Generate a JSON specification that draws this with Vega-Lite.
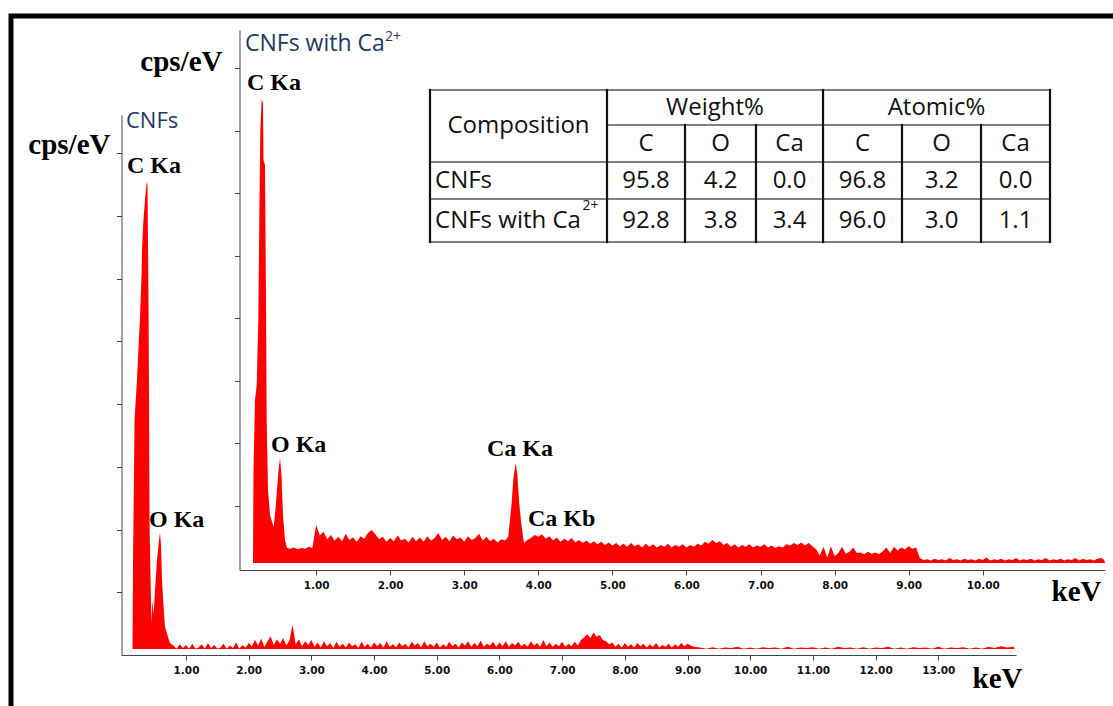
{
 "$schema": "https://vega.github.io/schema/vega-lite/v6.json",
 "width": 1102,
 "height": 690,
 "autosize": {"type": "none"},
 "padding": {"left": 11, "top": 16, "right": 0, "bottom": 0},
 "background": "white",
 "view": {"stroke": "#000", "strokeWidth": 5, "strokeDash": [1102, 1792, 690], "fill": "white"},
 "config": {
  "axis": {"grid": false, "domainColor": "#444", "domainWidth": 1, "tickColor": "#444", "tickSize": 5, "labelFont": "DejaVu Sans", "labelFontWeight": "bold", "labelFontSize": 10.5, "labelColor": "#111", "labelPadding": 5, "labelFlush": false, "labelOverlap": false, "titleFont": "Liberation Serif", "titleFontSize": 29, "titleFontWeight": "bold", "titleColor": "#000"},
  "axisX": {"labelDx": 4.5}
 },
 "datasets": {
  "back": [
   {"e":0.147,"c":0.096},{"e":0.155,"c":1.52},{"e":0.179,"c":3.75},{"e":0.218,"c":4.39},{"e":0.246,"c":4.98},{"e":0.266,"c":5.37},{"e":0.293,"c":6.11},{"e":0.298,"c":6.46},{"e":0.319,"c":6.91},{"e":0.346,"c":7.26},{"e":0.373,"c":7.54},{"e":0.386,"c":7.50},{"e":0.402,"c":5.66},{"e":0.410,"c":4.07},{"e":0.418,"c":2.15},{"e":0.434,"c":1.20},{"e":0.450,"c":0.51},{"e":0.466,"c":0.88},{"e":0.482,"c":0.64},{"e":0.506,"c":1.04},{"e":0.537,"c":1.52},{"e":0.569,"c":1.83},{"e":0.585,"c":1.95},{"e":0.601,"c":1.75},{"e":0.617,"c":1.20},{"e":0.638,"c":0.83},{"e":0.665,"c":0.45},{"e":0.718,"c":0.27},{"e":0.745,"c":0.19},
   {"e":0.80,"c":0.15},{"e":0.85,"c":0.10},{"e":0.90,"c":0.17},{"e":0.95,"c":0.11},{"e":1.00,"c":0.16},{"e":1.05,"c":0.10},{"e":1.10,"c":0.18},{"e":1.15,"c":0.10},{"e":1.20,"c":0.12},{"e":1.25,"c":0.17},{"e":1.30,"c":0.10},{"e":1.35,"c":0.19},{"e":1.40,"c":0.11},{"e":1.45,"c":0.16},{"e":1.50,"c":0.10},{"e":1.55,"c":0.12},{"e":1.60,"c":0.18},{"e":1.65,"c":0.10},{"e":1.70,"c":0.15},{"e":1.75,"c":0.11},{"e":1.80,"c":0.20},{"e":1.85,"c":0.10},{"e":1.90,"c":0.16},{"e":1.95,"c":0.12},{"e":2.00,"c":0.19},
   {"e":2.05,"c":0.14},{"e":2.10,"c":0.24},{"e":2.15,"c":0.15},{"e":2.20,"c":0.26},{"e":2.25,"c":0.13},{"e":2.30,"c":0.22},{"e":2.35,"c":0.30},{"e":2.40,"c":0.16},{"e":2.45,"c":0.25},{"e":2.50,"c":0.18},{"e":2.55,"c":0.27},{"e":2.60,"c":0.15},{"e":2.65,"c":0.23},{"e":2.70,"c":0.48},{"e":2.75,"c":0.17},{"e":2.80,"c":0.25},{"e":2.85,"c":0.14},{"e":2.90,"c":0.22},{"e":2.95,"c":0.16},{"e":3.00,"c":0.24},
   {"e":3.05,"c":0.13},{"e":3.10,"c":0.20},{"e":3.15,"c":0.12},{"e":3.20,"c":0.22},{"e":3.25,"c":0.14},{"e":3.30,"c":0.19},{"e":3.35,"c":0.11},{"e":3.40,"c":0.21},{"e":3.45,"c":0.13},{"e":3.50,"c":0.18},{"e":3.55,"c":0.12},{"e":3.60,"c":0.20},{"e":3.65,"c":0.14},{"e":3.70,"c":0.17},{"e":3.75,"c":0.11},{"e":3.80,"c":0.21},{"e":3.85,"c":0.13},{"e":3.90,"c":0.18},{"e":3.95,"c":0.12},{"e":4.00,"c":0.20},
   {"e":4.05,"c":0.14},{"e":4.10,"c":0.19},{"e":4.15,"c":0.12},{"e":4.20,"c":0.22},{"e":4.25,"c":0.13},{"e":4.30,"c":0.17},{"e":4.35,"c":0.12},{"e":4.40,"c":0.20},{"e":4.45,"c":0.14},{"e":4.50,"c":0.18},{"e":4.55,"c":0.12},{"e":4.60,"c":0.21},{"e":4.65,"c":0.15},{"e":4.70,"c":0.19},{"e":4.75,"c":0.12},{"e":4.80,"c":0.22},{"e":4.85,"c":0.14},{"e":4.90,"c":0.18},{"e":4.95,"c":0.13},{"e":5.00,"c":0.20},
   {"e":5.05,"c":0.12},{"e":5.10,"c":0.17},{"e":5.15,"c":0.13},{"e":5.20,"c":0.21},{"e":5.25,"c":0.14},{"e":5.30,"c":0.18},{"e":5.35,"c":0.12},{"e":5.40,"c":0.20},{"e":5.45,"c":0.15},{"e":5.50,"c":0.22},{"e":5.55,"c":0.13},{"e":5.60,"c":0.19},{"e":5.65,"c":0.14},{"e":5.70,"c":0.23},{"e":5.75,"c":0.13},{"e":5.80,"c":0.18},{"e":5.85,"c":0.15},{"e":5.90,"c":0.21},{"e":5.95,"c":0.13},{"e":6.00,"c":0.20},
   {"e":6.05,"c":0.14},{"e":6.10,"c":0.22},{"e":6.15,"c":0.13},{"e":6.20,"c":0.19},{"e":6.25,"c":0.15},{"e":6.30,"c":0.21},{"e":6.35,"c":0.14},{"e":6.40,"c":0.18},{"e":6.45,"c":0.13},{"e":6.50,"c":0.22},{"e":6.55,"c":0.15},{"e":6.60,"c":0.19},{"e":6.65,"c":0.13},{"e":6.70,"c":0.24},{"e":6.75,"c":0.14},{"e":6.80,"c":0.20},{"e":6.85,"c":0.13},{"e":6.90,"c":0.18},{"e":6.95,"c":0.14},{"e":7.00,"c":0.21},
   {"e":7.05,"c":0.13},{"e":7.10,"c":0.18},{"e":7.15,"c":0.14},{"e":7.20,"c":0.21},{"e":7.25,"c":0.15},{"e":7.30,"c":0.24},{"e":7.35,"c":0.28},{"e":7.40,"c":0.33},{"e":7.45,"c":0.27},{"e":7.50,"c":0.36},{"e":7.55,"c":0.29},{"e":7.60,"c":0.32},{"e":7.65,"c":0.24},{"e":7.70,"c":0.22},{"e":7.75,"c":0.17},{"e":7.80,"c":0.20},{"e":7.85,"c":0.13},{"e":7.90,"c":0.18},{"e":7.95,"c":0.12},{"e":8.00,"c":0.19},
   {"e":8.05,"c":0.13},{"e":8.10,"c":0.17},{"e":8.15,"c":0.12},{"e":8.20,"c":0.19},{"e":8.25,"c":0.14},{"e":8.30,"c":0.18},{"e":8.35,"c":0.12},{"e":8.40,"c":0.17},{"e":8.45,"c":0.13},{"e":8.50,"c":0.19},{"e":8.55,"c":0.12},{"e":8.60,"c":0.16},{"e":8.65,"c":0.13},{"e":8.70,"c":0.18},{"e":8.75,"c":0.12},{"e":8.80,"c":0.17},{"e":8.85,"c":0.13},{"e":8.90,"c":0.19},{"e":8.95,"c":0.14},{"e":9.00,"c":0.18},{"e":9.05,"c":0.15},{"e":9.10,"c":0.13},
   {"e":9.2,"c":0.12},{"e":9.3,"c":0.10},{"e":9.4,"c":0.125},{"e":9.5,"c":0.10},{"e":9.6,"c":0.12},{"e":9.7,"c":0.11},{"e":9.8,"c":0.13},{"e":9.9,"c":0.10},{"e":10.0,"c":0.12},{"e":10.1,"c":0.10},{"e":10.2,"c":0.125},{"e":10.3,"c":0.11},{"e":10.4,"c":0.12},{"e":10.5,"c":0.10},{"e":10.6,"c":0.13},{"e":10.7,"c":0.10},{"e":10.8,"c":0.12},{"e":10.9,"c":0.11},{"e":11.0,"c":0.125},{"e":11.1,"c":0.10},{"e":11.2,"c":0.12},{"e":11.3,"c":0.10},{"e":11.4,"c":0.13},{"e":11.5,"c":0.11},{"e":11.6,"c":0.12},{"e":11.7,"c":0.10},{"e":11.8,"c":0.125},{"e":11.9,"c":0.10},{"e":12.0,"c":0.12},{"e":12.1,"c":0.11},{"e":12.2,"c":0.13},{"e":12.3,"c":0.10},{"e":12.4,"c":0.12},{"e":12.5,"c":0.10},{"e":12.6,"c":0.125},{"e":12.7,"c":0.11},{"e":12.8,"c":0.12},{"e":12.9,"c":0.10},{"e":13.0,"c":0.13},{"e":13.1,"c":0.10},{"e":13.2,"c":0.12},{"e":13.3,"c":0.11},{"e":13.4,"c":0.125},{"e":13.5,"c":0.10},{"e":13.6,"c":0.12},{"e":13.7,"c":0.10},{"e":13.8,"c":0.13},{"e":13.9,"c":0.11},{"e":14.0,"c":0.14},{"e":14.1,"c":0.12},{"e":14.2,"c":0.13},{"e":14.22,"c":0.096}
  ],
  "front": [
   {"e":0.148,"c":0.08},{"e":0.155,"c":1.57},{"e":0.175,"c":2.69},{"e":0.198,"c":2.93},{"e":0.220,"c":3.97},{"e":0.236,"c":5.89},{"e":0.247,"c":7.01},{"e":0.266,"c":7.50},{"e":0.283,"c":7.44},{"e":0.290,"c":6.53},{"e":0.310,"c":6.45},{"e":0.324,"c":4.29},{"e":0.333,"c":2.37},{"e":0.351,"c":1.25},{"e":0.378,"c":0.85},{"e":0.405,"c":0.74},{"e":0.425,"c":0.66},{"e":0.445,"c":0.85},{"e":0.472,"c":1.25},{"e":0.493,"c":1.57},{"e":0.513,"c":1.76},{"e":0.533,"c":1.49},{"e":0.553,"c":0.85},{"e":0.580,"c":0.45},{"e":0.607,"c":0.32},
   {"e":0.65,"c":0.31},{"e":0.70,"c":0.33},{"e":0.75,"c":0.30},{"e":0.80,"c":0.32},{"e":0.85,"c":0.31},{"e":0.90,"c":0.34},{"e":0.95,"c":0.32},{"e":1.00,"c":0.69},{"e":1.05,"c":0.52},{"e":1.10,"c":0.58},{"e":1.15,"c":0.46},{"e":1.20,"c":0.53},{"e":1.25,"c":0.44},{"e":1.30,"c":0.50},{"e":1.35,"c":0.43},{"e":1.40,"c":0.55},{"e":1.45,"c":0.45},{"e":1.50,"c":0.49},{"e":1.55,"c":0.42},{"e":1.60,"c":0.51},{"e":1.65,"c":0.47},{"e":1.70,"c":0.56},{"e":1.75,"c":0.61},{"e":1.80,"c":0.54},{"e":1.85,"c":0.46},{"e":1.90,"c":0.50},{"e":1.95,"c":0.42},{"e":2.00,"c":0.48},
   {"e":2.05,"c":0.43},{"e":2.10,"c":0.52},{"e":2.15,"c":0.44},{"e":2.20,"c":0.47},{"e":2.25,"c":0.41},{"e":2.30,"c":0.50},{"e":2.35,"c":0.43},{"e":2.40,"c":0.49},{"e":2.45,"c":0.42},{"e":2.50,"c":0.51},{"e":2.55,"c":0.44},{"e":2.60,"c":0.48},{"e":2.65,"c":0.56},{"e":2.70,"c":0.45},{"e":2.75,"c":0.50},{"e":2.80,"c":0.43},{"e":2.85,"c":0.52},{"e":2.90,"c":0.46},{"e":2.95,"c":0.49},{"e":3.00,"c":0.42},
   {"e":3.05,"c":0.51},{"e":3.10,"c":0.45},{"e":3.15,"c":0.48},{"e":3.20,"c":0.55},{"e":3.25,"c":0.44},{"e":3.30,"c":0.50},{"e":3.35,"c":0.43},{"e":3.40,"c":0.47},{"e":3.45,"c":0.41},{"e":3.50,"c":0.46},{"e":3.55,"c":0.44},{"e":3.594,"c":0.50},{"e":3.617,"c":0.77},{"e":3.640,"c":1.04},{"e":3.661,"c":1.41},{"e":3.694,"c":1.68},{"e":3.715,"c":1.52},{"e":3.742,"c":1.04},{"e":3.775,"c":0.66},{"e":3.806,"c":0.40},
   {"e":3.85,"c":0.45},{"e":3.90,"c":0.48},{"e":3.95,"c":0.53},{"e":4.00,"c":0.50},{"e":4.05,"c":0.54},{"e":4.10,"c":0.47},{"e":4.15,"c":0.51},{"e":4.20,"c":0.44},{"e":4.25,"c":0.49},{"e":4.30,"c":0.42},{"e":4.35,"c":0.47},{"e":4.40,"c":0.43},{"e":4.45,"c":0.48},{"e":4.50,"c":0.41},{"e":4.55,"c":0.45},{"e":4.60,"c":0.40},{"e":4.65,"c":0.44},{"e":4.70,"c":0.39},{"e":4.75,"c":0.43},{"e":4.80,"c":0.38},{"e":4.85,"c":0.42},{"e":4.90,"c":0.37},{"e":4.95,"c":0.41},{"e":5.00,"c":0.36},
   {"e":5.05,"c":0.40},{"e":5.10,"c":0.35},{"e":5.15,"c":0.39},{"e":5.20,"c":0.34},{"e":5.25,"c":0.40},{"e":5.30,"c":0.35},{"e":5.35,"c":0.38},{"e":5.40,"c":0.33},{"e":5.45,"c":0.39},{"e":5.50,"c":0.34},{"e":5.55,"c":0.38},{"e":5.60,"c":0.33},{"e":5.65,"c":0.37},{"e":5.70,"c":0.34},{"e":5.75,"c":0.39},{"e":5.80,"c":0.33},{"e":5.85,"c":0.37},{"e":5.90,"c":0.34},{"e":5.95,"c":0.38},{"e":6.00,"c":0.33},
   {"e":6.05,"c":0.37},{"e":6.10,"c":0.34},{"e":6.15,"c":0.39},{"e":6.20,"c":0.36},{"e":6.25,"c":0.42},{"e":6.30,"c":0.39},{"e":6.35,"c":0.45},{"e":6.40,"c":0.40},{"e":6.45,"c":0.43},{"e":6.50,"c":0.37},{"e":6.55,"c":0.40},{"e":6.60,"c":0.34},{"e":6.65,"c":0.38},{"e":6.70,"c":0.33},{"e":6.75,"c":0.37},{"e":6.80,"c":0.34},{"e":6.85,"c":0.38},{"e":6.90,"c":0.33},{"e":6.95,"c":0.36},{"e":7.00,"c":0.34},
   {"e":7.05,"c":0.38},{"e":7.10,"c":0.33},{"e":7.15,"c":0.36},{"e":7.20,"c":0.32},{"e":7.25,"c":0.35},{"e":7.30,"c":0.33},{"e":7.35,"c":0.38},{"e":7.40,"c":0.36},{"e":7.45,"c":0.40},{"e":7.50,"c":0.37},{"e":7.55,"c":0.41},{"e":7.60,"c":0.36},{"e":7.65,"c":0.40},{"e":7.70,"c":0.35},{"e":7.75,"c":0.30},{"e":7.80,"c":0.20},{"e":7.85,"c":0.34},{"e":7.90,"c":0.17},{"e":7.95,"c":0.35},{"e":8.00,"c":0.19},
   {"e":8.05,"c":0.24},{"e":8.10,"c":0.34},{"e":8.15,"c":0.23},{"e":8.20,"c":0.26},{"e":8.25,"c":0.33},{"e":8.30,"c":0.24},{"e":8.35,"c":0.25},{"e":8.40,"c":0.22},{"e":8.45,"c":0.26},{"e":8.50,"c":0.23},{"e":8.55,"c":0.25},{"e":8.60,"c":0.22},{"e":8.65,"c":0.27},{"e":8.70,"c":0.33},{"e":8.75,"c":0.24},{"e":8.80,"c":0.34},{"e":8.85,"c":0.28},{"e":8.90,"c":0.33},{"e":8.95,"c":0.30},{"e":9.00,"c":0.35},{"e":9.05,"c":0.31},{"e":9.10,"c":0.33},{"e":9.15,"c":0.16},{"e":9.20,"c":0.13},
   {"e":9.25,"c":0.14},{"e":9.30,"c":0.12},{"e":9.35,"c":0.15},{"e":9.40,"c":0.13},{"e":9.45,"c":0.14},{"e":9.50,"c":0.12},{"e":9.55,"c":0.16},{"e":9.60,"c":0.13},{"e":9.65,"c":0.14},{"e":9.70,"c":0.12},{"e":9.75,"c":0.15},{"e":9.80,"c":0.13},{"e":9.85,"c":0.14},{"e":9.90,"c":0.12},{"e":9.95,"c":0.15},{"e":10.00,"c":0.13},{"e":10.05,"c":0.17},{"e":10.10,"c":0.12},{"e":10.15,"c":0.14},{"e":10.20,"c":0.13},{"e":10.25,"c":0.15},{"e":10.30,"c":0.12},{"e":10.35,"c":0.14},{"e":10.40,"c":0.13},{"e":10.45,"c":0.16},{"e":10.50,"c":0.12},{"e":10.55,"c":0.14},{"e":10.60,"c":0.13},{"e":10.65,"c":0.15},{"e":10.70,"c":0.12},{"e":10.75,"c":0.14},{"e":10.80,"c":0.13},{"e":10.85,"c":0.16},{"e":10.90,"c":0.12},{"e":10.95,"c":0.14},{"e":11.00,"c":0.13},{"e":11.05,"c":0.15},{"e":11.10,"c":0.12},{"e":11.15,"c":0.14},{"e":11.20,"c":0.13},{"e":11.25,"c":0.16},{"e":11.30,"c":0.12},{"e":11.35,"c":0.15},{"e":11.40,"c":0.13},{"e":11.45,"c":0.14},{"e":11.50,"c":0.12},{"e":11.55,"c":0.15},{"e":11.60,"c":0.16},{"e":11.64,"c":0.13},{"e":11.65,"c":0.08}
  ],
  "backPeaks": [
   {"label": "C Ka", "e": 0.059, "c": 7.687},
   {"label": "O Ka", "e": 0.410, "c": 2.041}
  ],
  "backTitle": [{"label": "CNFs", "e": 0.043, "c": 8.405}],
  "frontPeaks": [
   {"label": "C Ka", "e": 0.067, "c": 7.648},
   {"label": "O Ka", "e": 0.391, "c": 1.856},
   {"label": "Ca Ka", "e": 3.306, "c": 1.792},
   {"label": "Ca Kb", "e": 3.860, "c": 0.672}
  ],
  "frontTitle": [{"label": "CNFs with Ca", "e": 0.040, "c": 8.272}],
  "frontSup": [{"label": "2+", "e": 1.93, "c": 8.432}],
  "tableCenter": [
   {"t": "Composition", "cx": 1.196, "cy": 0.973},
   {"t": "Weight%", "cx": 3.851, "cy": 0.473},
   {"t": "Atomic%", "cx": 6.845, "cy": 0.473},
   {"t": "C", "cx": 2.919, "cy": 1.446}, {"t": "O", "cx": 3.926, "cy": 1.446}, {"t": "Ca", "cx": 4.858, "cy": 1.446},
   {"t": "C", "cx": 5.845, "cy": 1.446}, {"t": "O", "cx": 6.912, "cy": 1.446}, {"t": "Ca", "cx": 7.912, "cy": 1.446},
   {"t": "95.8", "cx": 2.919, "cy": 2.446}, {"t": "4.2", "cx": 3.926, "cy": 2.446}, {"t": "0.0", "cx": 4.858, "cy": 2.446},
   {"t": "96.8", "cx": 5.845, "cy": 2.446}, {"t": "3.2", "cx": 6.912, "cy": 2.446}, {"t": "0.0", "cx": 7.912, "cy": 2.446},
   {"t": "92.8", "cx": 2.919, "cy": 3.527}, {"t": "3.8", "cx": 3.926, "cy": 3.527}, {"t": "3.4", "cx": 4.858, "cy": 3.527},
   {"t": "96.0", "cx": 5.845, "cy": 3.527}, {"t": "3.0", "cx": 6.912, "cy": 3.527}, {"t": "1.1", "cx": 7.912, "cy": 3.527}
  ],
  "tableLeft": [
   {"t": "CNFs", "cx": 0.068, "cy": 2.446},
   {"t": "CNFs with Ca", "cx": 0.068, "cy": 3.527}
  ],
  "tableSup": [{"t": "2+", "cx": 2.06, "cy": 3.135}],
  "hLines": [
   {"x1": 0, "x2": 8.378, "y": 0},
   {"x1": 2.392, "x2": 8.378, "y": 0.946},
   {"x1": 0, "x2": 8.378, "y": 1.946},
   {"x1": 0, "x2": 8.378, "y": 2.946},
   {"x1": 0, "x2": 8.378, "y": 4.108}
  ],
  "vLines": [
   {"x": 0, "y1": 0, "y2": 4.108},
   {"x": 2.392, "y1": 0, "y2": 4.108},
   {"x": 5.311, "y1": 0, "y2": 4.108},
   {"x": 8.378, "y1": 0, "y2": 4.108},
   {"x": 3.446, "y1": 0.946, "y2": 4.108},
   {"x": 4.405, "y1": 0.946, "y2": 4.108},
   {"x": 6.378, "y1": 0.946, "y2": 4.108},
   {"x": 7.446, "y1": 0.946, "y2": 4.108}
  ]
 },
 "resolve": {"scale": {"x": "independent", "y": "independent"}, "axis": {"x": "independent", "y": "independent"}},
 "layer": [
  {
   "data": {"name": "back"},
   "mark": {"type": "area", "color": "#ff0000", "interpolate": "linear"},
   "encoding": {
    "x": {"field": "e", "type": "quantitative", "scale": {"domain": [-0.029, 14.24], "range": [110.5, 1005], "nice": false, "zero": false},
     "axis": {"orient": "bottom", "offset": -51, "values": [1,2,3,4,5,6,7,8,9,10,11,12,13], "format": ".2f", "title": "keV", "titleX": 961, "titleY": 32, "titleAlign": "left", "titleBaseline": "alphabetic", "titleAnchor": null}},
    "y": {"field": "c", "type": "quantitative", "scale": {"domain": [0, 8.612], "range": [639, 99], "nice": false, "zero": false},
     "axis": {"orient": "left", "offset": -110.5, "values": [1,2,3,4,5,6,7,8], "labels": false, "title": "cps/eV", "titleAngle": 0, "titleX": -11.5, "titleY": 137, "titleAlign": "right", "titleBaseline": "alphabetic"}},
    "y2": {"datum": 0.096}
   }
  },
  {
   "data": {"name": "backPeaks"},
   "mark": {"type": "text", "font": "Liberation Serif", "fontWeight": "bold", "fontSize": 24, "align": "left", "baseline": "alphabetic", "color": "#000"},
   "encoding": {
    "x": {"field": "e", "type": "quantitative", "scale": {"domain": [-0.029, 14.24], "range": [110.5, 1005], "nice": false, "zero": false}, "axis": null},
    "y": {"field": "c", "type": "quantitative", "scale": {"domain": [0, 8.612], "range": [639, 99], "nice": false, "zero": false}, "axis": null},
    "text": {"field": "label"}
   }
  },
  {
   "data": {"name": "backTitle"},
   "mark": {"type": "text", "font": "Open Sans", "fontSize": 22, "align": "left", "baseline": "alphabetic", "color": "#203864"},
   "encoding": {
    "x": {"field": "e", "type": "quantitative", "scale": {"domain": [-0.029, 14.24], "range": [110.5, 1005], "nice": false, "zero": false}, "axis": null},
    "y": {"field": "c", "type": "quantitative", "scale": {"domain": [0, 8.612], "range": [639, 99], "nice": false, "zero": false}, "axis": null},
    "text": {"field": "label"}
   }
  },
  {
   "data": {"name": "front"},
   "mark": {"type": "area", "color": "#ff0000", "interpolate": "linear"},
   "encoding": {
    "x": {"field": "e", "type": "quantitative", "scale": {"domain": [-0.034, 11.65], "range": [228.5, 1094], "nice": false, "zero": false},
     "axis": {"orient": "bottom", "offset": -136, "values": [1,2,3,4,5,6,7,8,9,10], "format": ".2f", "title": "keV", "titleX": 1040, "titleY": 30, "titleAlign": "left", "titleBaseline": "alphabetic", "titleAnchor": null}},
    "y": {"field": "c", "type": "quantitative", "scale": {"domain": [-0.032, 8.608], "range": [554, 14], "nice": false, "zero": false},
     "axis": {"orient": "left", "offset": -228.5, "values": [1,2,3,4,5,6,7,8], "labels": false, "title": "cps/eV", "titleAngle": 0, "titleX": -17.5, "titleY": 54, "titleAlign": "right", "titleBaseline": "alphabetic"}},
    "y2": {"datum": 0.08}
   }
  },
  {
   "mark": {"type": "rule", "color": "#2b2bff", "strokeWidth": 1.8},
   "encoding": {
    "x": {"datum": -0.034, "type": "quantitative", "scale": {"domain": [-0.034, 11.65], "range": [228.5, 1094], "nice": false, "zero": false}, "axis": null},
    "x2": {"datum": 11.65},
    "y": {"datum": 0.048, "type": "quantitative", "scale": {"domain": [-0.032, 8.608], "range": [554, 14], "nice": false, "zero": false}, "axis": null}
   }
  },
  {
   "data": {"name": "frontPeaks"},
   "mark": {"type": "text", "font": "Liberation Serif", "fontWeight": "bold", "fontSize": 24, "align": "left", "baseline": "alphabetic", "color": "#000"},
   "encoding": {
    "x": {"field": "e", "type": "quantitative", "scale": {"domain": [-0.034, 11.65], "range": [228.5, 1094], "nice": false, "zero": false}, "axis": null},
    "y": {"field": "c", "type": "quantitative", "scale": {"domain": [-0.032, 8.608], "range": [554, 14], "nice": false, "zero": false}, "axis": null},
    "text": {"field": "label"}
   }
  },
  {
   "data": {"name": "frontTitle"},
   "mark": {"type": "text", "font": "Open Sans", "fontSize": 23, "align": "left", "baseline": "alphabetic", "color": "#203864"},
   "encoding": {
    "x": {"field": "e", "type": "quantitative", "scale": {"domain": [-0.034, 11.65], "range": [228.5, 1094], "nice": false, "zero": false}, "axis": null},
    "y": {"field": "c", "type": "quantitative", "scale": {"domain": [-0.032, 8.608], "range": [554, 14], "nice": false, "zero": false}, "axis": null},
    "text": {"field": "label"}
   }
  },
  {
   "data": {"name": "frontSup"},
   "mark": {"type": "text", "font": "Open Sans", "fontSize": 14, "align": "left", "baseline": "alphabetic", "color": "#203864"},
   "encoding": {
    "x": {"field": "e", "type": "quantitative", "scale": {"domain": [-0.034, 11.65], "range": [228.5, 1094], "nice": false, "zero": false}, "axis": null},
    "y": {"field": "c", "type": "quantitative", "scale": {"domain": [-0.032, 8.608], "range": [554, 14], "nice": false, "zero": false}, "axis": null},
    "text": {"field": "label"}
   }
  },
  {
   "data": {"name": "hLines"},
   "mark": {"type": "rule", "color": "#555", "strokeWidth": 1.5, "strokeCap": "square"},
   "encoding": {
    "x": {"field": "x1", "type": "quantitative", "scale": {"domain": [0, 8.378], "range": [419, 1039], "nice": false, "zero": false}, "axis": null},
    "x2": {"field": "x2"},
    "y": {"field": "y", "type": "quantitative", "scale": {"domain": [0, 4.108], "range": [74, 226], "nice": false, "zero": false}, "axis": null}
   }
  },
  {
   "data": {"name": "vLines"},
   "mark": {"type": "rule", "color": "#111", "strokeWidth": 2.2, "strokeCap": "square"},
   "encoding": {
    "x": {"field": "x", "type": "quantitative", "scale": {"domain": [0, 8.378], "range": [419, 1039], "nice": false, "zero": false}, "axis": null},
    "y": {"field": "y1", "type": "quantitative", "scale": {"domain": [0, 4.108], "range": [74, 226], "nice": false, "zero": false}, "axis": null},
    "y2": {"field": "y2"}
   }
  },
  {
   "data": {"name": "tableCenter"},
   "mark": {"type": "text", "font": "Open Sans", "fontSize": 24, "align": "center", "baseline": "middle", "color": "#111"},
   "encoding": {
    "x": {"field": "cx", "type": "quantitative", "scale": {"domain": [0, 8.378], "range": [419, 1039], "nice": false, "zero": false}, "axis": null},
    "y": {"field": "cy", "type": "quantitative", "scale": {"domain": [0, 4.108], "range": [74, 226], "nice": false, "zero": false}, "axis": null},
    "text": {"field": "t"}
   }
  },
  {
   "data": {"name": "tableLeft"},
   "mark": {"type": "text", "font": "Open Sans", "fontSize": 24, "align": "left", "baseline": "middle", "color": "#111"},
   "encoding": {
    "x": {"field": "cx", "type": "quantitative", "scale": {"domain": [0, 8.378], "range": [419, 1039], "nice": false, "zero": false}, "axis": null},
    "y": {"field": "cy", "type": "quantitative", "scale": {"domain": [0, 4.108], "range": [74, 226], "nice": false, "zero": false}, "axis": null},
    "text": {"field": "t"}
   }
  },
  {
   "data": {"name": "tableSup"},
   "mark": {"type": "text", "font": "Open Sans", "fontSize": 14, "align": "left", "baseline": "middle", "color": "#111"},
   "encoding": {
    "x": {"field": "cx", "type": "quantitative", "scale": {"domain": [0, 8.378], "range": [419, 1039], "nice": false, "zero": false}, "axis": null},
    "y": {"field": "cy", "type": "quantitative", "scale": {"domain": [0, 4.108], "range": [74, 226], "nice": false, "zero": false}, "axis": null},
    "text": {"field": "t"}
   }
  }
 ]
}
